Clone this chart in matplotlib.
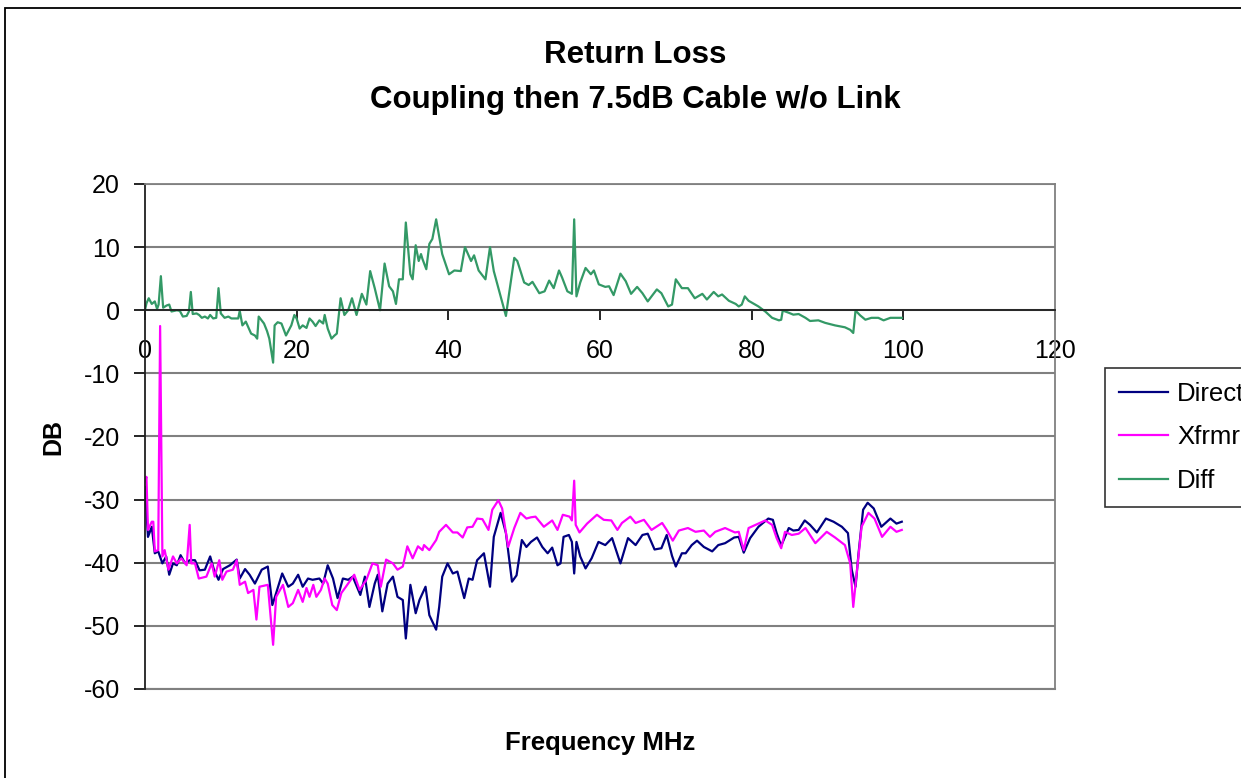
import matplotlib
matplotlib.use("Agg")
import matplotlib.pyplot as plt
from matplotlib.patches import Rectangle

plt.rcParams['font.family'] = ['Liberation Sans', 'DejaVu Sans']
plt.rcParams['axes.unicode_minus'] = False

# Direct (navy)
direct_mhz = [0, 0.4, 0.9, 1.3, 1.75, 2.3, 2.8, 3.2, 3.7, 4.2, 4.7, 5.3, 5.9, 6.6, 7.2, 7.9, 8.6, 9.1,
              9.7, 10.3, 11.2, 12.1, 12.5, 13.2, 13.8, 14.5, 15.4, 16.2, 16.8, 17.3, 18.1, 18.9, 19.5,
              20.2, 20.8, 21.5, 22.1, 23.0, 23.5, 24.1, 24.8, 25.4, 26.1, 26.8, 27.4, 28.4, 29.0, 29.6,
              30.3, 30.7, 31.3, 32.0, 32.7, 33.3, 34.0, 34.4, 35.0, 35.7, 36.2, 37.0, 37.5, 38.4, 38.8,
              39.2, 39.9, 40.6, 41.2, 42.1, 42.7, 43.2, 43.8, 44.7, 45.5, 46.0, 46.9, 47.6, 48.4, 49.0,
              49.7, 50.3, 50.9, 51.7, 52.4, 53.1, 53.7, 54.4, 54.8, 55.2, 55.9, 56.3, 56.6, 56.9, 57.4,
              58.1, 58.9, 59.8, 60.7, 61.6, 62.7, 63.7, 64.7, 65.6, 66.3, 67.2, 68.1, 68.8, 69.5, 70.0,
              70.8, 71.3, 72.1, 72.8, 73.7, 74.8, 75.6, 76.5, 77.7, 78.3, 78.96, 79.8, 80.9, 82.2, 82.8,
              83.3, 83.9, 84.9, 85.5, 86.2, 87.0, 87.7, 88.6, 89.8, 90.8, 91.9, 92.7, 93.2, 93.7, 94.1,
              94.7, 95.3, 96.1, 97.1, 98.3, 99.1, 99.8]
direct_db = [-28, -35.9, -34.3, -38.5, -38.2, -40.1, -39, -41.9, -40.1, -40.4, -38.8, -40.1, -39.6, -39.6,
             -41.2, -41.1, -39, -41.1, -42.7, -41, -40.4, -39.5, -42.5, -41, -41.9, -43.3, -41.1, -40.6,
             -46.7, -44.8, -41.7, -43.8, -43.3, -41.9, -43.8, -42.5, -42.7, -42.5, -43.3, -40.4, -42.5,
             -45.6, -42.5, -42.7, -42.2, -45.1, -42.2, -47, -43.3, -41.9, -47.7, -43.3, -42.2, -45.4,
             -45.9, -52, -43.5, -48, -45.9, -43.8, -48.3, -50.6, -47, -42.2, -40.1, -41.7, -41.4, -45.6,
             -42.5, -42.7, -39.6, -38.5, -43.8, -35.9, -32.1, -35.3, -43, -42, -36.4, -37.5, -36.7, -36,
             -37.5, -38.5, -37.6, -40.4, -40.1, -35.9, -35.6, -36.7, -41.7, -36.7, -39, -40.9, -39.3,
             -36.7, -37.2, -36.1, -40.1, -36.1, -37.2, -35.6, -35.4, -37.9, -37.7, -35.6, -38.9, -40.6,
             -38.5, -38.5, -37.2, -36.5, -37.5, -38.2, -37.2, -36.9, -36, -35.9, -38.4, -36.1, -34.3,
             -33, -33.2, -35.3, -37.3, -34.5, -34.9, -34.8, -33.3, -34, -35.2, -33, -33.5, -34.3, -35.3,
             -41.1, -43.8, -38.5, -31.6, -30.5, -31.4, -34.3, -33, -33.8, -33.5]

# Xfrmr (magenta)
xfrmr_mhz = [0, 0.2, 0.4, 0.9, 1.1, 1.3, 1.75, 2.0, 2.3, 2.6, 3.1, 3.7, 4.2, 4.8, 5.5, 5.9, 6.1, 6.6, 7.1,
             8.1, 8.8, 9.2, 9.8, 10.2, 10.75, 11.6, 12.1, 12.5, 13.2, 13.6, 14.3, 14.7, 15.1, 16.2, 16.9,
             17.3, 18.2, 18.9, 19.5, 20.2, 20.8, 21.3, 21.7, 22.2, 22.6, 23.2, 23.7, 24.1, 24.7, 25.3,
             25.9, 26.5, 27.6, 28.3, 29.2, 30.0, 30.7, 31.1, 31.8, 32.7, 33.3, 34.0, 34.6, 35.3, 36.0,
             36.6, 36.8, 37.5, 38.4, 38.8, 39.7, 40.6, 41.2, 41.9, 42.5, 43.2, 43.8, 44.5, 45.3, 45.8,
             46.6, 47.1, 47.9, 48.7, 49.5, 50.3, 50.9, 51.5, 52.6, 53.7, 54.4, 55.1, 56.0, 56.3, 56.6,
             56.8, 57.3, 58.3, 59.6, 60.5, 61.5, 62.3, 62.9, 64.0, 64.7, 65.8, 66.8, 68.2, 68.8, 69.6,
             70.4, 71.6, 72.6, 73.7, 74.5, 75.2, 76.5, 77.8, 78.3, 78.96, 79.6, 80.9, 81.8, 82.7, 83.3,
             83.9, 84.4, 85.3, 86.2, 87.1, 88.4, 89.9, 91.0, 92.3, 93.0, 93.4, 93.9, 94.5, 95.4, 96.2,
             97.2, 98.3, 99.1, 99.8]
xfrmr_db = [-27.1, -26.4, -34.8, -33.5, -33.5, -38.2, -38, -2.5, -39, -38, -41.1, -39, -40.1, -39.3, -40.4,
            -34, -40.1, -40.1, -42.5, -42.2, -40.1, -42.2, -39.6, -42.7, -41.4, -41.1, -39.6, -43.5, -43,
            -44.8, -44.3, -49, -43.8, -43.5, -53, -45.4, -43.5, -47, -46.4, -44.3, -46.2, -44, -45.4,
            -43.5, -45.4, -44.3, -42.5, -43.3, -46.7, -47.5, -44.8, -43.8, -41.9, -44.3, -42.7, -40.1,
            -40.4, -43.8, -39.5, -40.1, -41.1, -40.6, -37.4, -39.3, -37.4, -38, -37.2, -38, -36.4, -35.1,
            -34, -35.2, -35.2, -36, -34.4, -34.3, -33, -33.1, -34.8, -31.6, -30.1, -31.4, -37.5, -34.5,
            -32.1, -33, -32.8, -32.7, -34.3, -33.3, -34.8, -32.4, -32.7, -33.3, -27, -34, -35.2, -33.8,
            -32.4, -33.2, -33.3, -34.8, -33.7, -32.7, -33.7, -33.2, -34.8, -33.7, -34.8, -36.5, -34.9,
            -34.5, -35.1, -34.9, -35.9, -35.1, -34.5, -35.2, -35.1, -38, -34.5, -33.8, -33.3, -34, -36.1,
            -37.7, -35.1, -35.6, -35.4, -34.5, -36.9, -35.1, -36, -37.2, -40.1, -47, -41.1, -34.3, -32.1,
            -33, -35.9, -34.3, -35.1, -34.8]

# Diff (green)
diff_mhz = [0, 0.2, 0.5, 0.9, 1.3, 1.6, 1.8, 2.1, 2.4, 2.85, 3.2, 3.5, 4.2, 4.6, 5.0, 5.5, 5.8, 6.05, 6.3,
            6.8, 7.15, 7.5, 7.9, 8.3, 8.6, 9.0, 9.4, 9.7, 10.0, 10.5, 11.0, 11.4, 12.3, 12.5, 12.85, 13.3,
            13.6, 14.0, 14.5, 14.8, 15.0, 15.7, 16.1, 16.4, 16.9, 17.1, 17.5, 18.0, 18.6, 19.3, 19.7,
            20.0, 20.4, 20.8, 21.3, 21.7, 22.1, 22.5, 23.0, 23.5, 23.7, 24.1, 24.6, 25.0, 25.3, 25.8,
            26.3, 26.8, 27.3, 27.9, 28.6, 29.2, 29.7, 30.3, 31.0, 31.6, 32.2, 32.7, 33.1, 33.5, 34.0,
            34.4, 35.0, 35.3, 35.7, 36.1, 36.4, 36.6, 37.1, 37.5, 37.9, 38.4, 38.8, 39.2, 40.1, 40.8,
            41.65, 42.2, 43.0, 43.4, 44.0, 44.9, 45.5, 46.0, 46.9, 47.6, 48.0, 48.7, 49.1, 50.0, 50.6,
            51.1, 52.0, 52.7, 53.3, 53.9, 54.6, 55.0, 55.7, 56.3, 56.6, 56.9, 57.4, 58.1, 58.8, 59.2,
            59.85, 60.7, 61.2, 61.8, 62.7, 63.4, 64.1, 64.9, 65.6, 66.3, 67.5, 68.1, 69.0, 69.5, 70.0,
            70.8, 71.6, 72.5, 73.5, 74.1, 75.0, 75.6, 76.1, 77.0, 77.9, 78.3, 78.7, 79.1, 79.6, 80.9,
            81.8, 82.7, 83.6, 83.9, 84.1, 84.9, 85.5, 86.2, 87.1, 87.7, 88.8, 89.7, 91.0, 92.3, 93.0,
            93.4, 93.7, 94.3, 95.0, 95.8, 96.7, 97.4, 98.3, 99.8]
diff_db = [0, 1.1, 1.9, 1.0, 1.4, 0.2, 0.9, 5.4, 0.4, 0.75, 0.9, -0.2, 0, -0.1, -1, -0.9, -0.2, 2.9, -0.6,
           -0.5, -0.75, -1.2, -1, -1.3, -0.75, -1.3, -1.2, 3.5, -0.5, -1.2, -1, -1.3, -1.3, -0.1, -2.4,
           -1.8, -2.6, -3.7, -4, -4.5, -1, -2.1, -3.3, -4.5, -8.3, -2.4, -1.9, -2.1, -4, -2.4, -0.75,
           -1.3, -2.9, -2.4, -2.8, -1.3, -1.8, -2.5, -1.6, -2.1, -0.75, -2.9, -4.5, -4, -3.7, 1.9, -0.75,
           0, 1.9, -0.75, 2.6, 0.9, 6.2, 3.5, 0, 7.4, 3.8, 3.0, 1.0, 4.9, 4.9, 13.9, 5.7, 4.9, 10.3, 7.8,
           8.9, 8.1, 6.5, 10.5, 11.3, 14.4, 11.6, 8.9, 5.7, 6.3, 6.2, 10, 7.8, 8.7, 6.3, 4.9, 10, 6.2,
           2.2, -0.9, 2.5, 8.3, 7.8, 4.4, 4.0, 4.5, 2.7, 3.0, 4.7, 3.5, 6.3, 5.2, 3.0, 2.6, 14.4, 2.2,
           4.4, 6.7, 5.7, 6.3, 4.1, 3.7, 3.8, 2.4, 5.8, 4.6, 2.6, 3.7, 2.7, 1.4, 3.3, 2.7, 0.6, 0.9, 4.9,
           3.5, 3.5, 1.9, 2.6, 1.7, 2.9, 2.2, 2.5, 1.5, 1.0, 0.6, 0.9, 2.2, 1.5, 0.6, -0.2, -1.2, -1.6,
           -1.5, -0.05, -0.4, -0.7, -0.6, -1.2, -1.7, -1.6, -2.0, -2.4, -2.7, -3.1, -3.6, -0.05, -0.8,
           -1.5, -1.2, -1.2, -1.6, -1.2, -1.2]

x_ticks = [0, 20, 40, 60, 80, 100, 120]
y_ticks = [20, 10, 0, -10, -20, -30, -40, -50, -60]

fig = plt.figure(figsize=(12.41, 7.78), dpi=100)
ax = fig.add_axes([0.1168, 0.1144, 0.7333, 0.6491])

ax.plot(direct_mhz, direct_db, color='#000080', lw=1.6, label='Direct')
ax.plot(xfrmr_mhz, xfrmr_db, color='#FF00FF', lw=1.6, label='Xfrmr')
ax.plot(diff_mhz, diff_db, color='#339966', lw=1.6, label='Diff')

ax.set_xlim(0, 120)
ax.set_ylim(-60, 20)
ax.set_xticks(x_ticks)
ax.set_yticks(y_ticks)
ax.yaxis.grid(True, color='#808080', lw=1.5)
ax.set_axisbelow(True)

# excel style: x axis crosses at 0, grey frame around the plot area
ax.spines['bottom'].set_position(('data', 0))
ax.spines['bottom'].set_color('#202020')
ax.spines['left'].set_color('#202020')
ax.spines['top'].set_color('#808080')
ax.spines['right'].set_color('#808080')
for s in ax.spines.values():
    s.set_linewidth(1.3)
ax.axhline(-60, color='#808080', lw=1.5, clip_on=False)

ax.tick_params(axis='x', direction='out', length=7, width=1.2, pad=14, labelsize=18)
ax.tick_params(axis='y', direction='out', length=8, width=1.2, pad=10, labelsize=18)

ax.set_xlabel('Frequency MHz', fontsize=18.5, fontweight='bold')
ax.xaxis.set_label_coords(0.5, -0.083)
ax.set_ylabel('DB', fontsize=18, fontweight='bold')
ax.yaxis.set_label_coords(-0.087, 0.499)

fig.text(0.5117, 0.929, 'Return Loss', ha='center', va='center', fontsize=22.5, fontweight='bold')
fig.text(0.5117, 0.872, 'Coupling then 7.5dB Cable w/o Link', ha='center', va='center',
         fontsize=22.5, fontweight='bold')

leg = ax.legend(loc='upper left', bbox_to_anchor=(0.8904, 0.527), bbox_transform=fig.transFigure,
                borderaxespad=0, fontsize=18.5, frameon=True, fancybox=False, handlelength=1.9,
                handletextpad=0.35, labelspacing=0.75, borderpad=0.55)
leg.get_frame().set_edgecolor('black')
leg.get_frame().set_linewidth(1.2)

# chart border (runs off the right and bottom edge like the source)
fig.patches.append(Rectangle((0.004, -0.1), 1.2, 1.0897, transform=fig.transFigure,
                             fill=False, edgecolor='black', lw=1.3))

fig.savefig('out.png', dpi=100)
